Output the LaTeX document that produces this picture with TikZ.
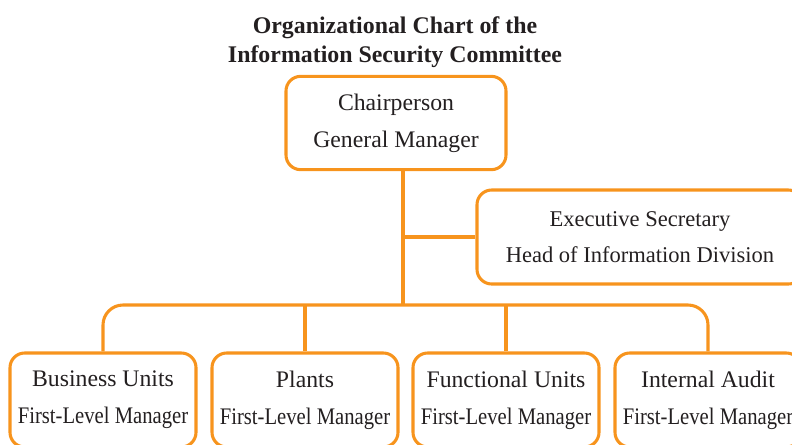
\documentclass[tikz,border=0pt]{standalone}
\usepackage{fontspec}
\setmainfont{Liberation Serif}
\usepackage{graphicx}
\usepackage{tikz}
\usetikzlibrary{positioning}

\definecolor{chartorange}{HTML}{F7941D}
\definecolor{charttext}{HTML}{231F20}
\newcommand{\narrowtext}[1]{\scalebox{0.87}[1]{#1}}

\begin{document}
\begin{tikzpicture}[x=0.75pt, y=-0.75pt,
  box/.style={draw=chartorange, line width=2.3pt, rounded corners=11pt,
    align=center, inner sep=0pt, text=charttext,
    font=\fontsize{17.8}{27.75}\selectfont,
    execute at begin node={\rule{0pt}{20.5pt}}},
  unitbox/.style={box, minimum width=139.5pt, minimum height=70.5pt},
  link/.style={draw=chartorange, line width=2.3pt}]
\clip (0,0) rectangle (792,444);

\node[font=\bfseries\fontsize{17.9}{21.75}\selectfont, align=center, text=charttext] (title) at (395,42)
  {Organizational Chart of the\\Information Security Committee};

\node[box, minimum width=165pt, minimum height=70pt] (chair) at (396,123)
  {Chairperson\\General Manager};
\node[box, minimum width=244.5pt, minimum height=70.5pt,
  font=\fontsize{16.9}{27}\selectfont] (exec) at (640,237)
  {Executive Secretary\\Head of Information Division};

\node[unitbox] (bu) at (103,400) {Business Units\\\narrowtext{First-Level Manager}};
\node[unitbox] (pl) at (305,400) {Plants\\\narrowtext{First-Level Manager}};
\node[unitbox] (fu) at (506,400) {Functional Units\\\narrowtext{First-Level Manager}};
\node[unitbox] (ia) at (708,400) {Internal Audit\\\narrowtext{First-Level Manager}};

% connectors
\coordinate (hub) at (403,305);
\coordinate (tap) at (hub |- exec.west);
\draw[link] (hub |- chair.south) -- (hub);
\draw[link] (tap) -- (exec.west);
\draw[link, rounded corners=15pt] (bu.north) -- (bu.north |- hub) -- (ia.north |- hub) -- (ia.north);
\draw[link] (pl.north) -- (pl.north |- hub);
\draw[link] (fu.north) -- (fu.north |- hub);

\end{tikzpicture}
\end{document}
